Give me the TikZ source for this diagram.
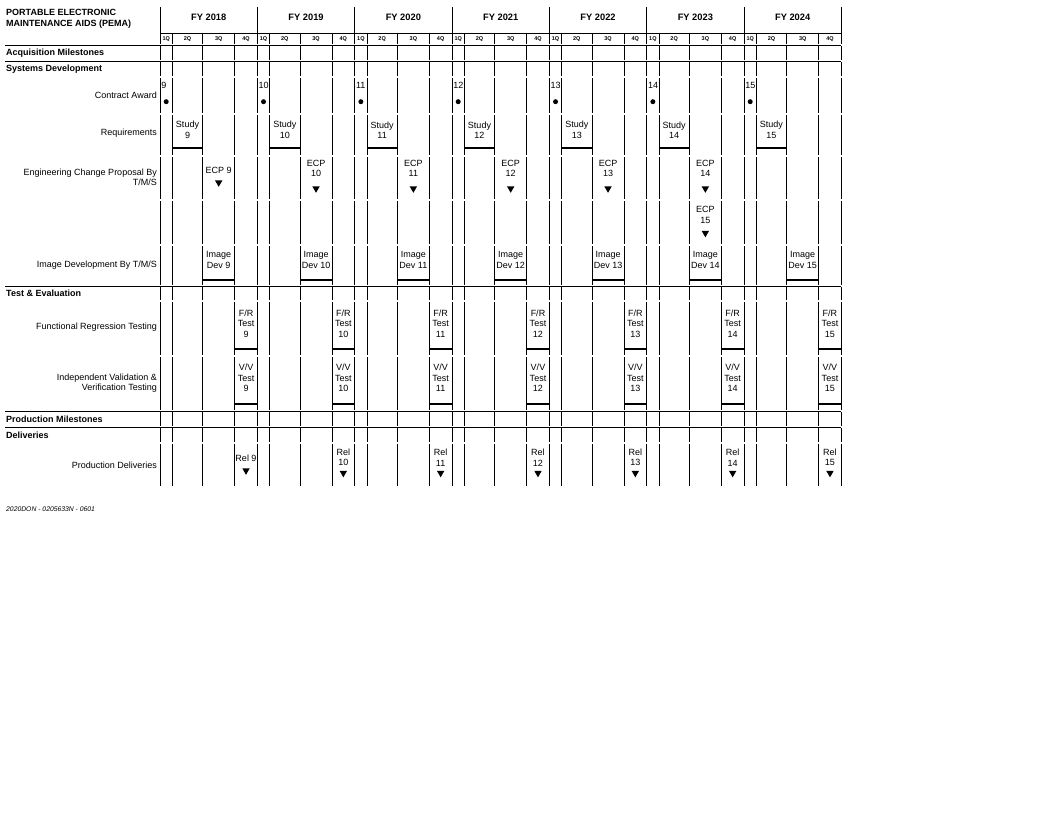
\documentclass[tikz,border=0pt]{standalone}
\usepackage{fontspec}
\setmainfont{Liberation Sans}
\usetikzlibrary{shapes.geometric}
\begin{document}
\begin{tikzpicture}[x=1pt,y=-1pt,
  txt/.style={font=\fontsize{9}{10.5}\selectfont, inner sep=0pt, align=center},
  lbl/.style={font=\fontsize{9}{10.2}\selectfont, inner sep=0pt, align=right, anchor=east},
  hdr/.style={font=\bfseries\fontsize{9}{11}\selectfont, inner sep=0pt, anchor=west, align=left},
  fy/.style={font=\bfseries\fontsize{9.3}{11}\selectfont, inner sep=0pt},
  qlbl/.style={font=\bfseries\fontsize{5.5}{6}\selectfont, inner sep=0pt},
  foot/.style={font=\itshape\fontsize{6.8}{8}\selectfont, inner sep=0pt, anchor=west},
  grid/.style={line width=0.9pt},
  bar/.style={line width=2.2pt},
  tri/.style={regular polygon, regular polygon sides=3, shape border rotate=180, fill=black, inner sep=0pt, minimum size=8.6pt},
  dot/.style={circle, fill=black, inner sep=0pt, minimum size=5pt}]
\useasboundingbox (0,0) rectangle (1056,816);

% title and headers
\node[hdr] (title) at (6,18.5) {PORTABLE ELECTRONIC\\MAINTENANCE AIDS (PEMA)};
\node[hdr] (hacq) at (6,53) {Acquisition Milestones};
\node[hdr] (hsys) at (6,69) {Systems Development};
\node[hdr] (htev) at (6,293.5) {Test \& Evaluation};
\node[hdr] (hpm) at (6,419) {Production Milestones};
\node[hdr] (hdel) at (6,435) {Deliveries};

% row labels
\node[lbl] (lca) at (157,95) {Contract Award};
\node[lbl] (lrq) at (157,133) {Requirements};
\node[lbl] (lecp) at (157,177.5) {Engineering Change Proposal By\\T/M/S};
\node[lbl] (lim) at (157,265) {Image Development By T/M/S};
\node[lbl] (lfr) at (157,327) {Functional Regression Testing};
\node[lbl] (liv) at (157,383) {Independent Validation \&\\Verification Testing};
\node[lbl] (lpd) at (157,465) {Production Deliveries};

\node[foot] (footer) at (6,509) {2020DON - 0205633N - 0601};

% horizontal rules
\draw[grid] (160,33) -- (841.3,33);
\foreach \yy in {45,61,286,411,427} {
  \draw[grid] (5,\yy) -- (841.3,\yy);
}

% header vertical lines
\foreach \k in {0,...,7} {
  \draw[grid] ({160+97.33*\k},7) -- ({160+97.33*\k},43.7);
}
\foreach \k in {0,...,6} {
  \foreach \o in {12.3,42.7,74.7} {
    \draw[grid] ({160+97.33*\k+\o},33) -- ({160+97.33*\k+\o},43.7);
  }
}

% body vertical lines, broken at each row boundary
\foreach \t/\b in {45/61,61/77,77/114,114/156,156/200,200/245,245/286,286/301,301/356,356/411,411/427,427/443,443/487} {
  \foreach \k in {0,...,7} {
    \draw[grid] ({160+97.33*\k},\t+1.3) -- ({160+97.33*\k},\b-1.3);
  }
  \foreach \k in {0,...,6} {
    \foreach \o in {12.3,42.7,74.7} {
      \draw[grid] ({160+97.33*\k+\o},\t+1.3) -- ({160+97.33*\k+\o},\b-1.3);
    }
  }
}

% per-year contents
\foreach \k in {0,...,6} {
  \pgfmathsetmacro\xa{160+97.33*\k}
  \pgfmathtruncatemacro\n{9+\k}
  \pgfmathtruncatemacro\yr{2018+\k}
  \node[fy] (fy\yr) at (\xa+48.7,17) {FY \yr};
  \node[qlbl] (qa\yr) at (\xa+6.2,39.3) {1Q};
  \node[qlbl] (qb\yr) at (\xa+27.5,39.3) {2Q};
  \node[qlbl] (qc\yr) at (\xa+58.7,39.3) {3Q};
  \node[qlbl] (qd\yr) at (\xa+86,39.3) {4Q};
  % contract award
  \node[txt, anchor=west] (ca\n) at (\xa+1.2,85) {\n};
  \node[dot] (cd\n) at (\xa+6.2,101.7) {};
  % requirements
  \node[txt] (st\n) at (\xa+27.5,130) {Study\\\n};
  \draw[bar] (\xa+12.3,148.3) -- (\xa+42.7,148.3);
  % ECP (none in FY 2024)
  \ifnum\n=9
    \node[txt] (ecp\n) at (\xa+58.7,170) {ECP \n};
    \node[tri] (ecpt\n) at (\xa+58.7,182.5) {};
  \else
    \ifnum\n<15
      \node[txt] (ecp\n) at (\xa+58.7,168.5) {ECP\\\n};
      \node[tri] (ecpt\n) at (\xa+58.7,188.5) {};
    \fi
  \fi
  % image dev
  \node[txt] (img\n) at (\xa+58.7,260) {Image\\Dev \n};
  \draw[bar] (\xa+42.7,280) -- (\xa+74.7,280);
  % F/R test
  \node[txt] (fr\n) at (\xa+86,323.5) {F/R\\Test\\\n};
  \draw[bar] (\xa+74.7,349.3) -- (\xa+97.33,349.3);
  % V/V test
  \node[txt] (vv\n) at (\xa+86,378) {V/V\\Test\\\n};
  \draw[bar] (\xa+74.7,404) -- (\xa+97.33,404);
  % releases
  \ifnum\n=9
    \node[txt] (rel\n) at (\xa+86,458.3) {Rel \n};
    \node[tri] (relt\n) at (\xa+86,470.5) {};
  \else
    \node[txt] (rel\n) at (\xa+86,457.5) {Rel\\\n};
    \node[tri] (relt\n) at (\xa+86,473) {};
  \fi
}

% extra ECP 15 in FY 2023
\node[txt] (ecp15) at ({160+97.33*5+58.7},215) {ECP\\15};
\node[tri] (ecpt15) at ({160+97.33*5+58.7},233) {};

\end{tikzpicture}
\end{document}
